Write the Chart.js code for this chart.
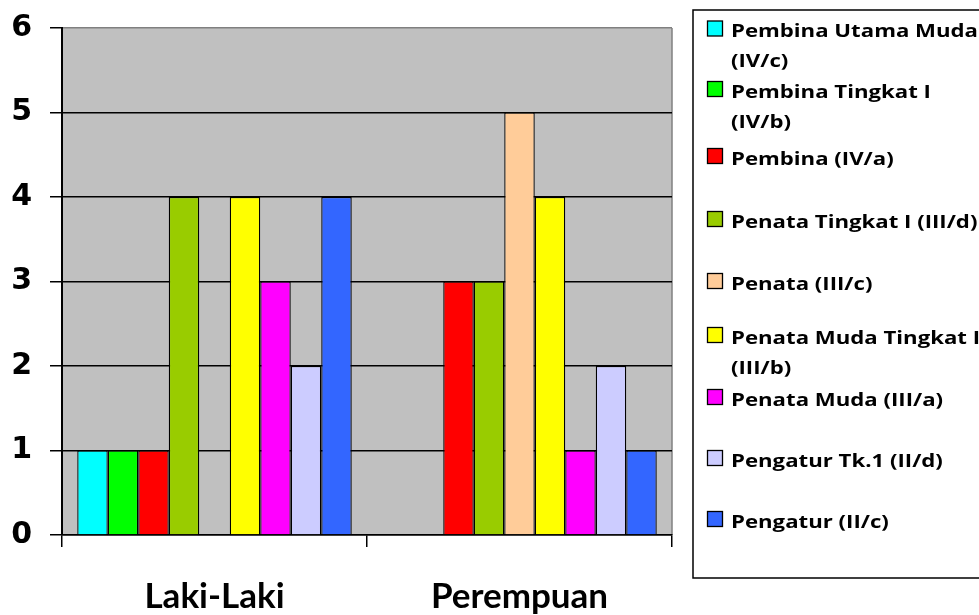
<!DOCTYPE html>
<html>
<head>
<meta charset="utf-8">
<script src="https://cdn.jsdelivr.net/npm/chart.js@4/dist/chart.umd.min.js"></script>
<style>
  html, body { margin: 0; padding: 0; background: #ffffff; }
  #wrap { width: 979px; height: 615px; position: relative; overflow: hidden; }
</style>
</head>
<body>
<div id="wrap"><canvas id="chart" width="979" height="615"></canvas></div>
<script>
// Categories along the x axis
const categories = ['Laki-Laki', 'Perempuan'];

// Rank groups (one bar series each); '\n' marks where the legend wraps
const seriesNames = [
  'Pembina Utama Muda\n(IV/c)',
  'Pembina Tingkat I\n(IV/b)',
  'Pembina (IV/a)',
  'Penata Tingkat I (III/d)',
  'Penata (III/c)',
  'Penata Muda Tingkat I\n(III/b)',
  'Penata Muda (III/a)',
  'Pengatur Tk.1 (II/d)',
  'Pengatur (II/c)'
];

// Counts per series, by category
const lakiLakiValues  = [1, 1, 1, 4, 0, 4, 3, 2, 4];
const perempuanValues = [0, 0, 3, 3, 5, 4, 1, 2, 1];

// Value axis ticks
const yTickValues = [0, 1, 2, 3, 4, 5, 6];

const seriesColors = [
  '#00FFFF', '#00FF00', '#FF0000', '#99CC00', '#FFCC99',
  '#FFFF00', '#FF00FF', '#CCCCFF', '#3366FF'
];

// Legend row centres (px from top) for each entry
const legendRowY = [28.5, 89, 156, 219, 281, 335, 397, 458, 519];

const datasets = seriesNames.map((name, i) => ({
  label: name,
  data: [lakiLakiValues[i], perempuanValues[i]],
  backgroundColor: seriesColors[i],
  borderColor: '#000000',
  borderWidth: 1.3,
  categoryPercentage: 0.9,
  barPercentage: 1.0
}));

// Grey plot area with grey right frame
const plotBackground = {
  id: 'plotBackground',
  beforeDraw(chart) {
    const { ctx, chartArea: a } = chart;
    ctx.save();
    ctx.fillStyle = '#C0C0C0';
    ctx.fillRect(a.left, a.top, a.right - a.left, a.bottom - a.top);
    ctx.strokeStyle = '#808080';
    ctx.lineWidth = 1.5;
    ctx.beginPath();
    ctx.moveTo(a.right, a.top);
    ctx.lineTo(a.right, a.bottom);
    ctx.stroke();
    ctx.restore();
  }
};

// Boxed legend on the right, running off the right edge
const boxedLegend = {
  id: 'boxedLegend',
  afterDraw(chart) {
    const ctx = chart.ctx;
    ctx.save();
    ctx.strokeStyle = '#000000';
    ctx.lineWidth = 1.5;
    ctx.beginPath();
    ctx.moveTo(1100, 10);
    ctx.lineTo(693, 10);
    ctx.lineTo(693, 578);
    ctx.lineTo(1100, 578);
    ctx.stroke();

    ctx.font = 'bold 18px "Open Sans"';
    const stretch = 247 / ctx.measureText('Pembina Utama Muda').width;
    const textX = 731;
    const lineH = 30;

    chart.data.datasets.forEach((ds, i) => {
      const cy = legendRowY[i];
      ctx.fillStyle = ds.backgroundColor;
      ctx.fillRect(707.5, cy - 7.5, 15, 15);
      ctx.strokeStyle = '#000000';
      ctx.lineWidth = 1.3;
      ctx.strokeRect(707.5, cy - 7.5, 15, 15);

      ctx.fillStyle = '#000000';
      ctx.textBaseline = 'alphabetic';
      ctx.textAlign = 'left';
      ds.label.split('\n').forEach((ln, k) => {
        ctx.save();
        ctx.translate(textX, cy + 8.5 + k * lineH);
        ctx.scale(stretch, 1);
        ctx.fillText(ln, 0, 0);
        ctx.restore();
      });
    });
    ctx.restore();
  }
};

new Chart(document.getElementById('chart'), {
  type: 'bar',
  data: { labels: categories, datasets },
  plugins: [plotBackground, boxedLegend],
  options: {
    responsive: false,
    devicePixelRatio: 1,
    animation: false,
    layout: { padding: { left: 0, right: 307, top: 28, bottom: 0 } },
    plugins: {
      legend: { display: false },
      tooltip: { enabled: false }
    },
    scales: {
      x: {
        grid: {
          offset: true,
          drawOnChartArea: false,
          drawTicks: true,
          tickLength: 12,
          tickColor: '#000000',
          lineWidth: 1.5
        },
        border: { display: true, color: '#000000', width: 1.5 },
        ticks: {
          color: '#000000',
          font: { family: 'Lato', weight: 'bold', size: 35 },
          padding: 29,
          maxRotation: 0
        },
        afterFit(scale) {
          scale.height = 80;
          scale.paddingLeft = 0;
          scale.paddingRight = 0;
        }
      },
      y: {
        min: 0,
        max: 6,
        afterBuildTicks(scale) {
          scale.ticks = yTickValues.map(v => ({ value: v }));
        },
        ticks: {
          color: '#000000',
          font: { family: 'DejaVu Sans', weight: 'bold', size: 30 },
          padding: 18
        },
        grid: {
          color: ctx => (ctx.tick && ctx.tick.value === 6) ? '#808080' : '#000000',
          lineWidth: 1.5,
          tickLength: 12,
          tickColor: '#000000'
        },
        border: { display: true, color: '#000000', width: 2 },
        afterFit(scale) {
          scale.width = 62;
          scale.paddingTop = 0;
          scale.paddingBottom = 0;
        }
      }
    }
  }
});
</script>
</body>
</html>
